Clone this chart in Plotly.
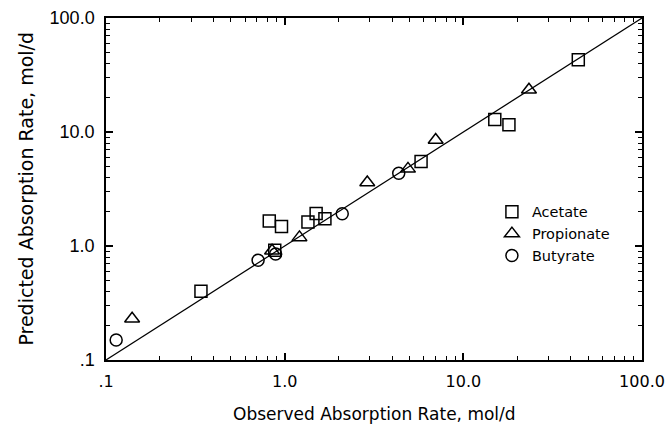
import plotly.graph_objects as go

# ---- data ----
acetate_obs = [0.34, 0.88, 0.82, 0.96, 1.35, 1.50, 1.68, 5.8, 15.0, 18.0, 44.0]
acetate_pred = [0.40, 0.92, 1.66, 1.48, 1.62, 1.93, 1.73, 5.5, 12.9, 11.6, 43.0]

propionate_obs = [0.14, 0.85, 1.21, 2.9, 4.9, 7.0, 23.3]
propionate_pred = [0.23, 0.91, 1.19, 3.6, 4.75, 8.5, 23.5]

butyrate_obs = [0.114, 0.71, 0.89, 2.1, 4.35]
butyrate_pred = [0.150, 0.75, 0.85, 1.92, 4.35]

identity_line = [0.1, 100.0]

tick_vals = [0.1, 1, 10, 100]
tick_text = [".1", "1.0", "10.0", "100.0"]
minor_vals = [m * d for d in (0.1, 1, 10) for m in range(2, 10)]

fig = go.Figure()

fig.add_trace(go.Scatter(x=identity_line, y=identity_line, mode="lines",
                         line=dict(color="black", width=1.2), showlegend=False,
                         hoverinfo="skip"))

marker_line = dict(color="black", width=1.5)
fig.add_trace(go.Scatter(x=acetate_obs, y=acetate_pred, mode="markers", name="Acetate",
                         marker=dict(symbol="square-open", size=12, color="black", line=marker_line)))
fig.add_trace(go.Scatter(x=propionate_obs, y=propionate_pred, mode="markers", name="Propionate",
                         marker=dict(symbol="triangle-up-open", size=13, color="black", line=marker_line)))
fig.add_trace(go.Scatter(x=butyrate_obs, y=butyrate_pred, mode="markers", name="Butyrate",
                         marker=dict(symbol="circle-open", size=12, color="black", line=marker_line)))

# invisible helper trace so the minor-tick overlay axes are drawn
fig.add_trace(go.Scatter(x=identity_line, y=identity_line, xaxis="x2", yaxis="y2",
                         mode="lines", line=dict(width=0, color="rgba(0,0,0,0)"),
                         showlegend=False, hoverinfo="skip"))

axis_common = dict(
    type="log", range=[-1, 2], showgrid=False, zeroline=False, automargin=False,
    showline=True, linecolor="black", linewidth=1.5, mirror="ticks",
    ticks="inside", ticklen=7, tickwidth=1.5, tickcolor="black",
    tickmode="array", tickvals=tick_vals, ticktext=tick_text,
)

minor_common = dict(
    type="log", range=[-1, 2], showgrid=False, zeroline=False, automargin=False,
    showline=False, mirror="ticks",
    ticks="inside", ticklen=4, tickwidth=1.2, tickcolor="black",
    tickmode="array", tickvals=minor_vals, ticktext=[""] * len(minor_vals),
    showticklabels=False,
)

fig.update_layout(
    xaxis=dict(**axis_common,
               tickfont=dict(family="DejaVu Sans", size=16, color="black"),
               ticklabelstandoff=6),
    yaxis=dict(**axis_common,
               tickfont=dict(family="Liberation Sans", size=18, color="black"),
               ticklabelstandoff=6),
    xaxis2=dict(**minor_common, overlaying="x", anchor="y", side="bottom"),
    yaxis2=dict(**minor_common, overlaying="y", anchor="x", side="left"),
)

fig.add_annotation(text="Observed Absorption Rate, mol/d", xref="paper", yref="paper",
                   x=0.5, y=-0.158, xanchor="center", yanchor="middle", showarrow=False,
                   font=dict(family="DejaVu Sans", size=17, color="black"))
fig.add_annotation(text="Predicted Absorption Rate, mol/d", xref="paper", yref="paper",
                   x=-0.150, y=0.5, xanchor="center", yanchor="middle", showarrow=False,
                   textangle=-90,
                   font=dict(family="DejaVu Sans", size=19, color="black"))

fig.update_layout(
    width=668, height=427,
    margin=dict(l=106, r=26, t=18, b=67, autoexpand=False),
    paper_bgcolor="white", plot_bgcolor="white",
    legend=dict(x=0.72, y=0.48, xanchor="left", yanchor="top",
                bgcolor="rgba(0,0,0,0)", borderwidth=0,
                font=dict(family="DejaVu Sans", size=14.5, color="black"),
                itemwidth=30, tracegroupgap=0),
)

fig.write_html("out.html", config={"displayModeBar": False},
               post_script="document.body.style.margin='0';")
